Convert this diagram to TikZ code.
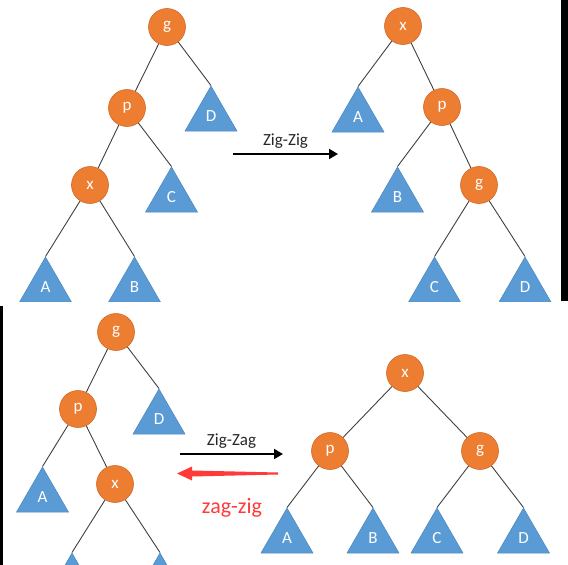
\documentclass[tikz,border=0pt]{standalone}
\usepackage{fontspec}
\setmainfont{Carlito}
\usetikzlibrary{shapes.geometric,arrows.meta}

\definecolor{naranja}{HTML}{ED7D31}
\definecolor{naranja_borde}{HTML}{D0692A}
\definecolor{azul}{HTML}{5B9BD5}
\definecolor{azul_borde}{HTML}{4A86BE}
\definecolor{gris_linea}{HTML}{404040}
\definecolor{rojo_flecha}{HTML}{FF3A3A}

\begin{document}
\begin{tikzpicture}[x=1pt,y=-1pt]
  % Definir estilos
  \tikzset{
    nodo/.style={circle, fill=naranja, draw=naranja_borde, line width=0.6pt, minimum size=37pt, inner sep=0pt, text=white, font=\fontsize{17}{17}\selectfont},
    subarbol/.style={regular polygon, regular polygon sides=3, fill=azul, draw=azul_borde, line width=0.5pt, minimum size=60pt, inner sep=0pt, text=white, font=\fontsize{17}{17}\selectfont},
    arista/.style={gris_linea, line width=0.9pt},
    flecha_negra/.style={-{Triangle[length=9pt,width=10pt]}, line width=1.8pt, black},
    flecha_roja/.style={fill=rojo_flecha},
    etiqueta/.style={font=\fontsize{17}{17}\selectfont, text=black!85},
    etiqueta_roja/.style={font=\fontsize{22}{22}\selectfont, text=rojo_flecha}
  }

  % Marco de la imagen
  \useasboundingbox (0,0) rectangle (568,565);
  \clip (0,0) rectangle (568,565);
  \fill (561,0) rectangle (568,301);
  \fill (0,306) rectangle (3,565);

  % Arriba: zig-zig
  \begin{scope}
    \clip (0,0) rectangle (568,301);
    % Arbol inicial
    \node[nodo] (g_1) at (167,27) {g};
    \node[nodo] (p_1) at (127,108) {p};
    \node[nodo] (x_1) at (90,185) {x};
    \node[subarbol] (D_1) at (211,116) {D};
    \node[subarbol] (C_1) at (171.5,197) {C};
    \node[subarbol] (A_1) at (45.5,287) {A};
    \node[subarbol] (B_1) at (134.5,287) {B};
    \draw[arista] (g_1) -- (p_1);
    \draw[arista] (g_1) -- (D_1.corner 1);
    \draw[arista] (p_1) -- (x_1);
    \draw[arista] (p_1) -- (C_1.corner 1);
    \draw[arista] (x_1) -- (A_1.corner 1);
    \draw[arista] (x_1) -- (B_1.corner 1);

    % Arbol final
    \node[nodo] (x_2) at (403,26) {x};
    \node[nodo] (p_2) at (442,107) {p};
    \node[nodo] (g_2) at (479,185) {g};
    \node[subarbol] (A_2) at (358,117) {A};
    \node[subarbol] (B_2) at (397.5,197) {B};
    \node[subarbol] (C_2) at (434.5,287) {C};
    \node[subarbol] (D_2) at (525,287) {D};
    \draw[arista] (x_2) -- (A_2.corner 1);
    \draw[arista] (x_2) -- (p_2);
    \draw[arista] (p_2) -- (B_2.corner 1);
    \draw[arista] (p_2) -- (g_2);
    \draw[arista] (g_2) -- (C_2.corner 1);
    \draw[arista] (g_2) -- (D_2.corner 1);

    % Flecha de giro
    \coordinate (zigzig_ini) at (233,154);
    \coordinate (zigzig_fin) at (338,154);
    \draw[flecha_negra] (zigzig_ini) -- (zigzig_fin) node[midway, above=1pt, etiqueta] {Zig-Zig};
  \end{scope}

  % Abajo: zig-zag
  % Arbol inicial
  \node[nodo] (g_3) at (116,332) {g};
  \node[nodo] (p_3) at (78,409) {p};
  \node[nodo] (x_3) at (115,484) {x};
  \node[subarbol] (D_3) at (159,419) {D};
  \node[subarbol] (A_3) at (42.5,497) {A};
  \node[subarbol] (B_3) at (72,583) {};
  \node[subarbol] (C_3) at (160,583) {};
  \draw[arista] (g_3) -- (p_3);
  \draw[arista] (g_3) -- (D_3.corner 1);
  \draw[arista] (p_3) -- (A_3.corner 1);
  \draw[arista] (p_3) -- (x_3);
  \draw[arista] (x_3) -- (B_3.corner 1);
  \draw[arista] (x_3) -- (C_3.corner 1);

  % Arbol final
  \node[nodo] (x_4) at (405,373) {x};
  \node[nodo] (p_4) at (330,451) {p};
  \node[nodo] (g_4) at (480,451) {g};
  \node[subarbol] (A_4) at (287,538) {A};
  \node[subarbol] (B_4) at (373,538) {B};
  \node[subarbol] (C_4) at (437,538) {C};
  \node[subarbol] (D_4) at (523.5,538) {D};
  \draw[arista] (x_4) -- (p_4);
  \draw[arista] (x_4) -- (g_4);
  \draw[arista] (p_4) -- (A_4.corner 1);
  \draw[arista] (p_4) -- (B_4.corner 1);
  \draw[arista] (g_4) -- (C_4.corner 1);
  \draw[arista] (g_4) -- (D_4.corner 1);

  % Flechas de giro
  \coordinate (zigzag_ini) at (180,454);
  \coordinate (zigzag_fin) at (283,454);
  \draw[flecha_negra] (zigzag_ini) -- (zigzag_fin) node[midway, above=1pt, etiqueta] {Zig-Zag};
  \coordinate (zagzig_punta) at (177,473.5);
  \fill[flecha_roja] (zagzig_punta) -- ++(15,-7) -- ++(0,4) -- ++(86,2) -- ++(0,2) -- ++(-86,2) -- ++(0,4) -- cycle;
  \node[etiqueta_roja] (zagzig) at (232,508) {zag-zig};
\end{tikzpicture}
\end{document}
